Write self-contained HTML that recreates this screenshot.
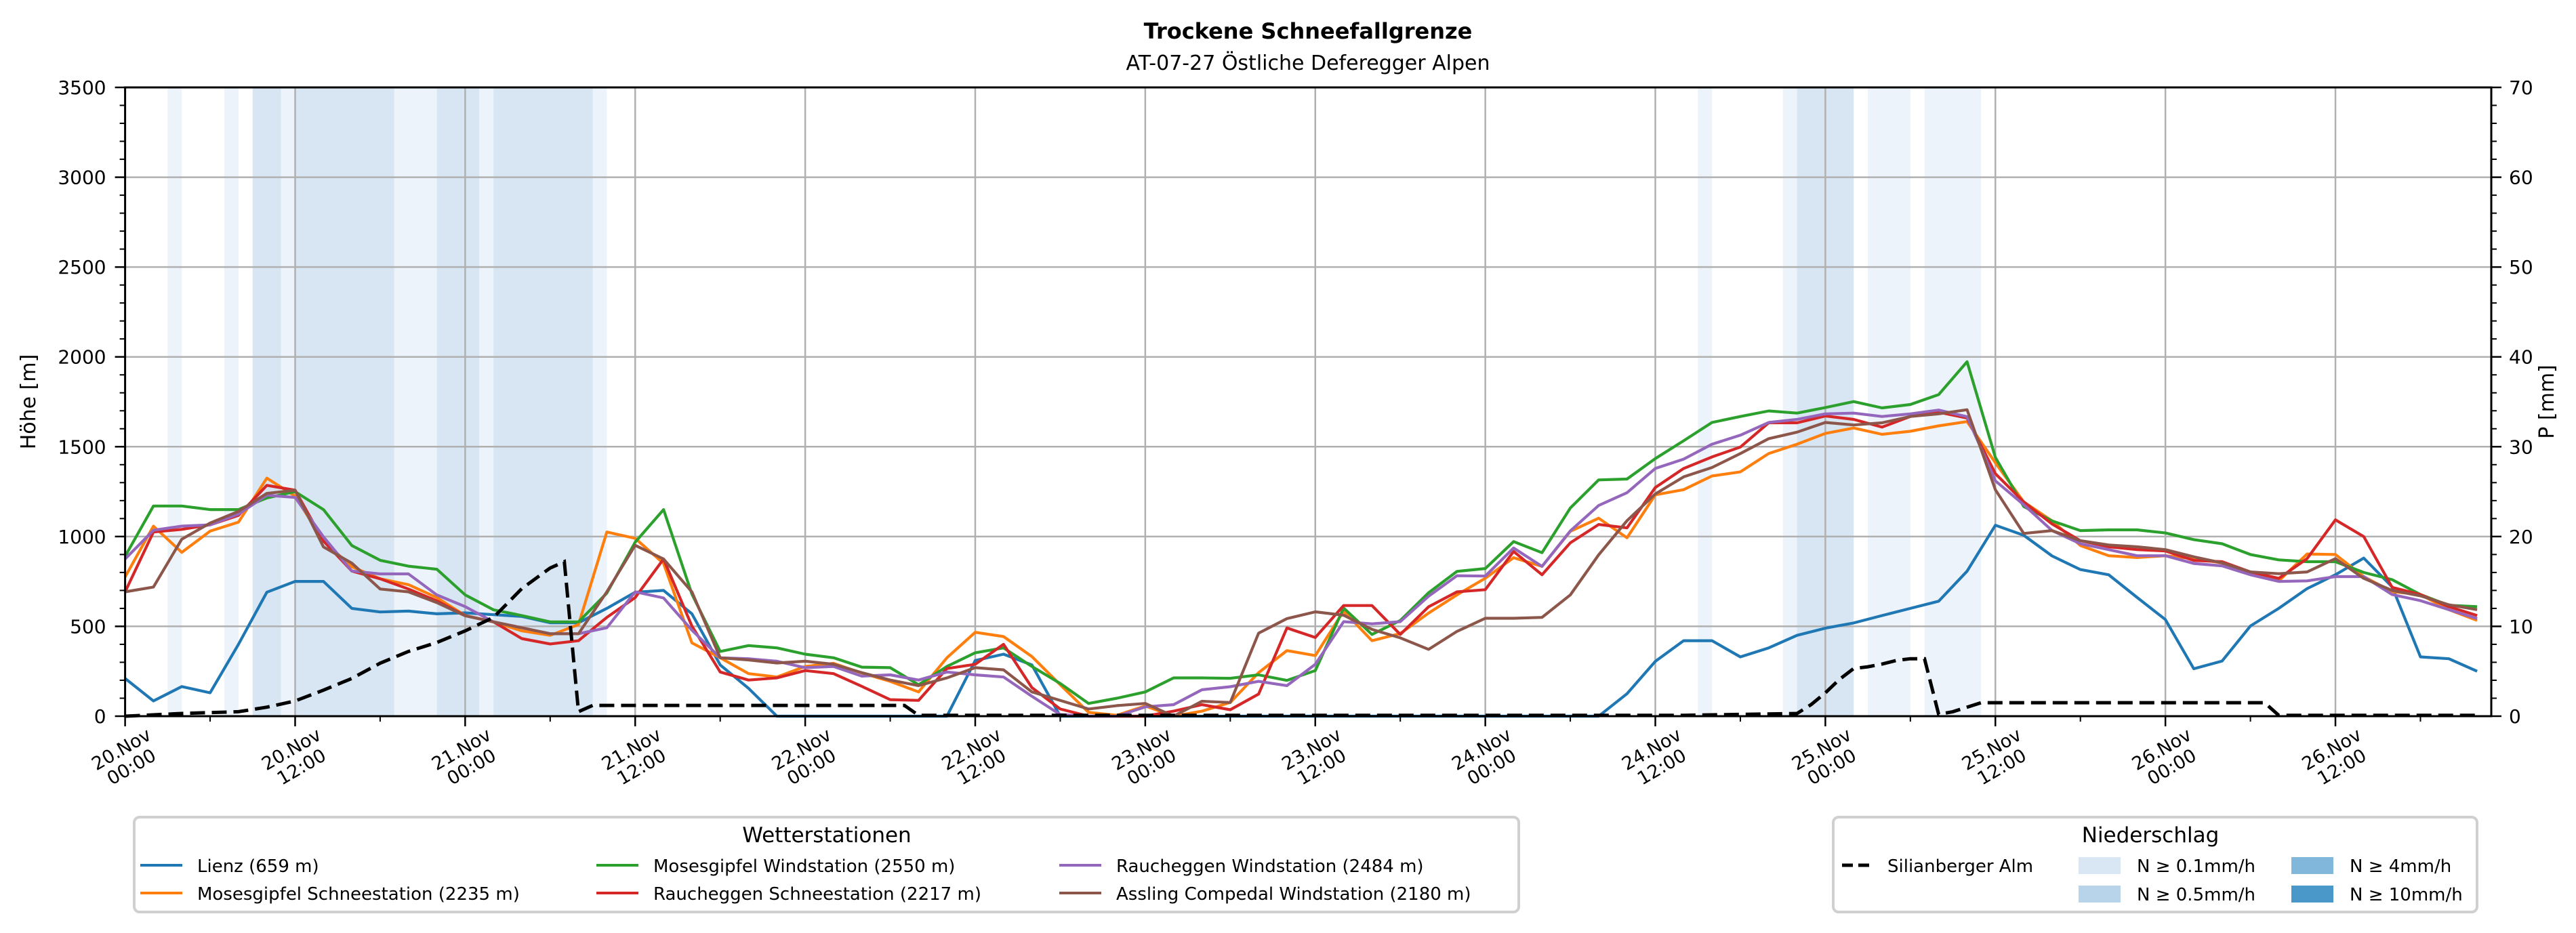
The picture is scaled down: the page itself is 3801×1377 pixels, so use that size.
<!DOCTYPE html>
<html><head><meta charset="utf-8">
<style>
html,body{margin:0;padding:0;background:#fff;}
svg{display:block;font-family:"DejaVu Sans","Liberation Sans",sans-serif;}
</style></head>
<body>
<svg id="chart" width="3801" height="1377" viewBox="0 0 3801 1377" xmlns="http://www.w3.org/2000/svg">
  <rect x="0" y="0" width="3801" height="1377" fill="#fff"/>
  <text x="1930" y="57" text-anchor="middle" font-size="32" font-weight="bold">Trockene Schneefallgrenze</text>
  <text x="1930" y="103" text-anchor="middle" font-size="30">AT-07-27 Östliche Deferegger Alpen</text>
  <g id="bands"></g>
  <g id="grid"></g>
  <g id="series"></g>
  <g id="axes"></g>
  <text transform="translate(52,593) rotate(-90)" text-anchor="middle" font-size="30">Höhe [m]</text>
  <text transform="translate(3768,593) rotate(-90)" text-anchor="middle" font-size="30">P [mm]</text>
  <g id="legend1">
    <rect x="198" y="1206" width="2043" height="140" rx="8" fill="#fff" stroke="#d0d0d0" stroke-width="4"/>
    <text x="1220" y="1243" text-anchor="middle" font-size="31">Wetterstationen</text>
  </g>
  <g id="legend2">
    <rect x="2705" y="1206" width="950" height="140" rx="8" fill="#fff" stroke="#d0d0d0" stroke-width="4"/>
    <text x="3173" y="1243" text-anchor="middle" font-size="31">Niederschlag</text>
  </g>
</svg>
<script>
const NS = "http://www.w3.org/2000/svg";
// ---- data ----
const xTickHours = [0,12,24,36,48,60,72,84,96,108,120,132,144,156];
const xTickDates = ["20.Nov","20.Nov","21.Nov","21.Nov","22.Nov","22.Nov","23.Nov","23.Nov","24.Nov","24.Nov","25.Nov","25.Nov","26.Nov","26.Nov"];
const xTickTimes = ["00:00","12:00","00:00","12:00","00:00","12:00","00:00","12:00","00:00","12:00","00:00","12:00","00:00","12:00"];
const yTicks = [0,500,1000,1500,2000,2500,3000,3500];
const y2Ticks = [0,10,20,30,40,50,60,70];
const stationNames = ["Lienz (659 m)","Mosesgipfel Schneestation (2235 m)","Mosesgipfel Windstation (2550 m)","Raucheggen Schneestation (2217 m)","Raucheggen Windstation (2484 m)","Assling Compedal Windstation (2180 m)"];
const stationColors = ["#1f77b4","#ff7f0e","#2ca02c","#d62728","#9467bd","#8c564b"];
const lienz = [210,85,165,130,400,690,750,750,600,580,585,570,575,565,555,520,520,600,690,700,570,285,155,0,0,0,0,0,0,0,310,345,285,0,0,0,0,0,0,0,0,0,0,0,0,0,0,0,0,0,0,0,0,125,305,420,420,330,380,450,490,519,560,600,640,807,1063,1007,892,816,787,661,538,264,307,502,600,710,787,880,720,330,320,250];
const moseSchnee = [775,1058,912,1030,1080,1325,1225,975,832,765,732,660,560,525,475,450,510,1025,990,850,408,325,237,218,277,294,240,194,135,325,467,443,332,175,21,5,57,0,28,76,242,365,337,585,420,460,574,675,768,882,834,1029,1102,993,1232,1261,1337,1360,1462,1514,1574,1604,1569,1586,1616,1640,1410,1193,1087,950,893,883,893,877,853,793,753,903,900,777,693,677,593,533];
const moseWind = [890,1170,1170,1150,1150,1215,1250,1150,950,868,835,818,675,592,560,525,525,685,968,1150,680,360,393,380,345,325,273,270,175,277,353,380,277,182,71,100,135,213,213,211,230,199,254,602,455,533,687,806,822,972,910,1159,1315,1320,1434,1533,1635,1668,1699,1687,1718,1751,1716,1735,1790,1973,1440,1167,1087,1033,1037,1037,1020,983,960,900,870,860,860,800,760,677,617,610];
const rauchSchnee = [692,1025,1040,1065,1118,1285,1258,975,808,765,708,642,560,525,432,402,420,550,660,875,502,246,201,213,254,237,166,92,88,265,289,400,159,40,0,0,0,28,64,36,123,491,438,616,616,455,609,692,704,917,787,965,1067,1048,1273,1379,1443,1498,1633,1633,1671,1652,1609,1668,1692,1660,1350,1193,1070,977,943,927,920,867,860,803,767,877,1093,1000,717,677,610,560];
const rauchWind = [875,1035,1058,1065,1125,1230,1218,998,808,792,792,675,610,525,492,459,459,492,692,658,479,325,320,306,270,277,223,230,201,246,230,218,111,9,0,0,52,64,147,164,194,170,289,526,514,526,668,782,780,936,834,1031,1173,1244,1379,1431,1514,1564,1635,1652,1683,1687,1668,1683,1704,1667,1310,1177,1033,960,927,893,893,850,837,787,750,753,777,777,677,643,593,543];
const assling = [692,719,985,1075,1140,1240,1258,942,852,708,692,632,559,525,492,459,459,692,951,875,692,325,313,296,306,289,242,201,170,213,270,258,135,88,40,59,71,0,83,76,462,543,581,562,483,436,372,472,545,545,550,675,898,1088,1237,1332,1384,1462,1545,1581,1635,1621,1633,1668,1683,1706,1260,1017,1033,977,953,943,927,887,853,803,793,803,877,767,700,670,620,593];
const silHours = [0,4,8,10,12,14,16,18,20,22,24,26,28,30,31,32,33,55,56,110,118,119,120,121,122,123,124,125,126,127,128,129,130,131,151,152,166];
const silValues = [0,0.3,0.5,1.0,1.7,2.9,4.2,5.9,7.2,8.2,9.5,11.0,14.2,16.5,17.2,0.5,1.2,1.2,0.1,0.1,0.3,1.3,2.6,4.1,5.3,5.5,5.8,6.2,6.4,6.4,0.2,0.5,1.0,1.5,1.5,0.1,0.1];
const bandStart = [3,7,9,11,12,19,22,25,26,33,111,117,118,123,127];
const bandEnd   = [4,8,11,12,19,22,25,26,33,34,112,118,122,126,131];
const bandLevel = [1,1,2,1,2,1,2,1,2,1,1,1,2,1,1];
const precipLabels = ["N ≥ 0.1mm/h","N ≥ 0.5mm/h","N ≥ 4mm/h","N ≥ 10mm/h"];
const precipColors = ["#d9e7f4","#b8d4ea","#80b7da","#4a98c9"];

// ---- scales ----
const L = 184.6, R = 3676, T = 129, B = 1057;
const XMAX = 167;
const X = h => L + h * (R - L) / XMAX;
const Y = v => B - v * (B - T) / 3500;
const YP = p => B - p * (B - T) / 70;
const hours = [];
for (let h = 0; h < 167; h += 2) hours.push(h);

function el(tag, attrs, parent) {
  const e = document.createElementNS(NS, tag);
  for (const k in attrs) e.setAttribute(k, attrs[k]);
  parent.appendChild(e);
  return e;
}
const bandsG = document.getElementById('bands');
const gridG = document.getElementById('grid');
const seriesG = document.getElementById('series');
const axesG = document.getElementById('axes');

const bandFill = {1: "#edf3fa", 2: "#d7e6f2"};
bandStart.forEach((s, i) => {
  const r = el('rect', {x: X(s), y: T, width: X(bandEnd[i]) - X(s), height: B - T, fill: bandFill[bandLevel[i]]}, bandsG);
  
  
});

yTicks.forEach(v => {
  if (v === 0 || v === 3500) return;
  const g = el('line', {x1: L, x2: R, y1: Y(v), y2: Y(v), stroke: "#b0b0b0", "stroke-width": 2.5}, gridG);
  
  
});
xTickHours.forEach(h => {
  if (h === 0) return;
  const g = el('line', {x1: X(h), x2: X(h), y1: T, y2: B, stroke: "#b0b0b0", "stroke-width": 2.5}, gridG);
  
  
});

const allSeries = [lienz, moseSchnee, moseWind, rauchSchnee, rauchWind, assling];
allSeries.forEach((vals, si) => {
  const pts = vals.map((v, i) => X(hours[i]).toFixed(1) + ',' + Y(v).toFixed(1)).join(' ');
  const p = el('polyline', {points: pts, fill: "none", stroke: stationColors[si], "stroke-width": 4.2, "stroke-linejoin": "round"}, seriesG);
  
  
});
{
  const pts = silValues.map((v, i) => X(silHours[i]).toFixed(1) + ',' + YP(v).toFixed(1)).join(' ');
  const p = el('polyline', {points: pts, fill: "none", stroke: "#000", "stroke-width": 5, "stroke-dasharray": "22,10"}, seriesG);
  
  
}

[[L,T,L,B],[R,T,R,B],[L,T,R,T],[L,B,R,B]].forEach(c => {
  const s = el('line', {x1: c[0], y1: c[1], x2: c[2], y2: c[3], stroke: "#000", "stroke-width": 3, "stroke-linecap": "square"}, axesG);
  
  
});
for (let v = 0; v <= 3500; v += 100) {
  const major = v % 500 === 0;
  const t = el('line', {x1: L - (major ? 15 : 8), x2: L, y1: Y(v), y2: Y(v), stroke: "#000", "stroke-width": major ? 2.5 : 2}, axesG);
  
  
}
yTicks.forEach(v => {
  const t = el('text', {x: L - 28, y: Y(v) + 10, "text-anchor": "end", "font-size": 28}, axesG);
  t.textContent = String(v);
  
  
});
for (let p = 0; p <= 70; p += 2) {
  const major = p % 10 === 0;
  const t = el('line', {x1: R, x2: R + (major ? 15 : 8), y1: YP(p), y2: YP(p), stroke: "#000", "stroke-width": major ? 2.5 : 2}, axesG);
  
  
}
y2Ticks.forEach(p => {
  const t = el('text', {x: R + 26, y: YP(p) + 10, "font-size": 28}, axesG);
  t.textContent = String(p);
  
  
});
for (let h = 0; h <= 166; h += 6) {
  const major = h % 12 === 0;
  const t = el('line', {x1: X(h), x2: X(h), y1: B, y2: B + (major ? 15 : 8), stroke: "#000", "stroke-width": major ? 2.5 : 2}, axesG);
  
  
}
xTickHours.forEach((h, i) => {
  const g = el('g', {transform: `translate(${X(h) + 2},${B + 62}) rotate(-30)`}, axesG);
  
  
  const t1 = el('text', {x: 0, y: -6, "text-anchor": "middle", "font-size": 27}, g);
  t1.textContent = xTickDates[i];
  const t2 = el('text', {x: 0, y: 24, "text-anchor": "middle", "font-size": 27}, g);
  t2.textContent = xTickTimes[i];
});

const lg1 = document.getElementById('legend1');
const colX = [207, 880, 1563];
stationNames.forEach((name, i) => {
  const col = Math.floor(i / 2), row = i % 2;
  const cx = colX[col], cy = row === 0 ? 1277 : 1318;
  const ln = el('line', {x1: cx, x2: cx + 62, y1: cy, y2: cy, stroke: stationColors[i], "stroke-width": 4}, lg1);
  
  
  const t = el('text', {x: cx + 84, y: cy + 10, "font-size": 26}, lg1);
  t.textContent = name;
  
  
});
const lg2 = document.getElementById('legend2');
{
  const ln = el('line', {x1: 2718, x2: 2762, y1: 1277, y2: 1277, stroke: "#000", "stroke-width": 5, "stroke-dasharray": "16,8"}, lg2);
  
  
  const t = el('text', {x: 2785, y: 1287, "font-size": 26}, lg2);
  t.textContent = "Silianberger Alm";
  
  
}
precipLabels.forEach((lab, i) => {
  const col = Math.floor(i / 2), row = i % 2;
  const px = col === 0 ? 3067 : 3381, py = row === 0 ? 1265 : 1307;
  const r = el('rect', {x: px, y: py, width: 62, height: 25, fill: precipColors[i]}, lg2);
  
  
  const t = el('text', {x: px + 86, y: py + 22, "font-size": 26}, lg2);
  t.textContent = lab;
  
  
});
</script>
</body></html>
